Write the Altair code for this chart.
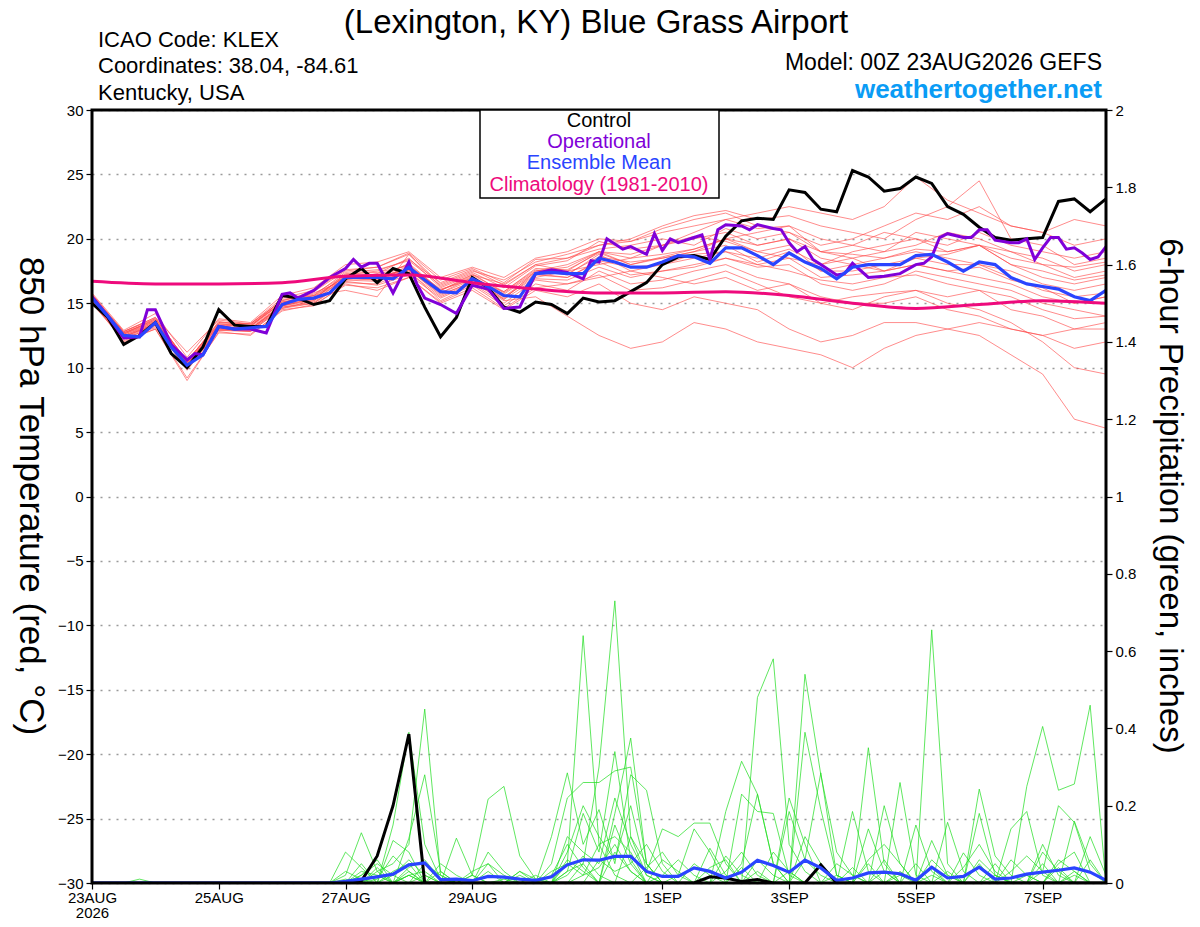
import altair as alt
import pandas as pd

# ---------------- data ----------------
HOURS6 = list(range(0, 385, 6))
HOURS12 = list(range(0, 385, 12))
HOURS24 = list(range(0, 385, 24))

control_temp = [15.0, 13.9, 11.8, 12.5, 13.5, 11.1, 10.0, 11.6, 14.5, 13.3,
                13.2, 13.2, 15.6, 15.4, 14.9, 15.2, 16.9, 17.7, 16.6, 17.7,
                17.3, 14.7, 12.4, 13.9, 17.0, 16.2, 14.7, 14.3, 15.1, 14.9,
                14.2, 15.4, 15.1, 15.2, 15.9, 16.6, 18.0, 18.6, 18.7, 18.4,
                20.2, 21.4, 21.6, 21.5, 23.8, 23.6, 22.3, 22.1, 25.3, 24.8,
                23.7, 23.9, 24.8, 24.3, 22.5, 21.9, 20.9, 20.1, 19.9, 20.0,
                20.1, 22.9, 23.1, 22.1, 23.1]

mean_temp = [15.4, 14.0, 12.5, 12.4, 13.5, 11.6, 10.2, 11.0, 13.2, 13.0,
             13.1, 13.2, 14.9, 15.3, 15.4, 15.8, 17.0, 17.0, 17.0, 16.9,
             17.8, 16.8, 15.9, 15.8, 16.9, 16.3, 15.6, 15.5, 17.3, 17.4,
             17.3, 17.3, 18.5, 18.2, 17.8, 17.8, 18.2, 18.7, 18.6, 18.1,
             19.3, 19.3, 18.7, 18.0, 18.9, 18.2, 17.7, 16.9, 17.8, 18.0,
             18.0, 18.0, 18.7, 18.8, 18.2, 17.5, 18.2, 18.0, 17.0, 16.5,
             16.3, 16.1, 15.5, 15.2, 16.0]

op_hours = [0, 6, 12, 18, 21, 24, 30, 36, 39, 42, 48, 54, 60, 66, 72, 75, 78, 84,
            90, 96, 99, 102, 105, 108, 114, 120, 123, 126, 132, 138, 144, 150,
            156, 162, 168, 174, 180, 186, 189, 192, 195, 201, 204, 210, 213, 216,
            219, 222, 228, 231, 234, 237, 240, 246, 249, 252, 258, 261, 264, 267,
            270, 273, 276, 282, 285, 288, 294, 300, 306, 312, 315, 318, 321, 324,
            330, 333, 336, 339, 342, 348, 351, 354, 357, 360, 363, 366, 369, 372,
            375, 378, 381, 384]
op_temp = [15.5, 14.0, 12.3, 12.4, 14.5, 14.5, 11.8, 10.6, 11.1, 11.0, 13.2, 13.0,
           13.0, 12.7, 15.7, 15.8, 15.4, 16.0, 17.0, 17.7, 18.4, 17.8, 18.1, 18.1,
           15.8, 18.2, 16.5, 15.4, 14.9, 14.2, 16.4, 16.1, 14.6, 14.7, 17.3, 17.6,
           17.4, 16.9, 18.3, 18.2, 20.0, 19.2, 19.4, 18.8, 20.4, 19.1, 20.0, 19.7,
           20.1, 20.3, 18.4, 20.7, 21.1, 21.0, 20.7, 21.1, 20.8, 20.7, 19.7, 19.0,
           19.4, 18.4, 18.0, 17.2, 17.3, 18.1, 17.0, 17.1, 17.3, 18.0, 18.1, 18.6,
           20.1, 20.4, 20.1, 20.1, 20.7, 20.7, 19.9, 19.7, 19.7, 20.0, 18.4, 19.3,
           20.1, 20.1, 19.2, 19.3, 18.9, 18.4, 18.6, 19.4]

clim_temp = [16.7, 16.5, 16.5, 16.6, 17.1, 17.2, 16.6, 16.1, 15.8, 15.8,
             15.9, 15.6, 15.0, 14.6, 14.9, 15.2, 15.0]

members_temp = [
    [15.8, 12.9, 14.2, 10.8, 13.8, 13.5, 15.6, 16.2, 18.0, 18.2, 19.0, 17.0, 17.8, 17.0, 18.5, 19.0, 20.0, 19.8, 20.5, 21.0, 21.5, 22.0, 22.5, 22.0, 21.5, 22.5, 24.8, 23.0, 22.0, 21.0, 20.5, 19.5, 20.0],
    [15.2, 12.0, 13.0, 9.0, 12.8, 12.5, 14.5, 14.8, 16.5, 16.0, 17.0, 15.0, 16.0, 14.5, 16.0, 15.5, 16.5, 15.0, 14.5, 15.5, 15.0, 14.5, 13.0, 12.0, 12.5, 13.5, 13.5, 13.0, 12.5, 11.0, 9.5, 6.0, 5.3],
    [15.6, 12.6, 13.8, 10.5, 13.5, 13.4, 15.2, 15.9, 17.5, 17.8, 18.8, 16.5, 17.5, 16.8, 18.2, 18.8, 19.5, 19.8, 20.8, 21.5, 22.0, 21.0, 20.5, 19.5, 20.0, 21.0, 22.0, 21.5, 22.5, 21.0, 20.5, 21.5, 21.0],
    [15.0, 12.2, 13.2, 9.8, 12.9, 12.8, 14.6, 15.0, 16.6, 16.5, 17.5, 15.2, 16.4, 14.8, 16.5, 16.0, 17.5, 16.5, 16.8, 17.5, 18.0, 17.0, 16.5, 15.0, 15.5, 15.8, 16.0, 15.0, 14.5, 13.5, 12.0, 10.0, 9.5],
    [15.5, 12.8, 13.9, 10.4, 13.6, 13.2, 15.3, 15.6, 17.4, 17.6, 18.3, 16.4, 17.4, 16.2, 17.9, 18.3, 19.8, 19.2, 19.5, 20.5, 21.5, 20.8, 21.0, 19.0, 18.5, 19.0, 20.5, 20.0, 19.5, 19.0, 18.5, 17.5, 18.0],
    [15.3, 12.4, 13.4, 10.1, 13.1, 13.0, 14.8, 15.3, 17.2, 17.2, 18.0, 16.0, 17.0, 15.5, 17.0, 17.5, 18.0, 18.5, 19.5, 20.0, 20.5, 19.5, 20.0, 18.5, 18.0, 17.5, 18.5, 18.8, 19.5, 18.0, 17.0, 16.5, 17.0],
    [15.7, 12.7, 13.6, 10.6, 13.3, 13.3, 15.0, 15.8, 16.8, 17.3, 18.5, 16.2, 17.2, 16.5, 18.0, 17.5, 19.0, 18.0, 18.5, 19.0, 20.0, 20.5, 21.0, 20.0, 19.5, 20.5, 20.0, 19.5, 20.5, 19.5, 19.0, 18.5, 19.0],
    [15.1, 12.3, 13.1, 9.9, 13.0, 12.9, 14.7, 15.1, 16.7, 16.4, 17.2, 15.4, 16.5, 15.0, 16.8, 16.5, 17.2, 16.0, 16.2, 16.8, 17.5, 16.5, 15.5, 15.0, 14.5, 15.5, 16.0, 15.5, 16.0, 14.5, 14.0, 13.0, 13.5],
    [15.4, 12.5, 13.5, 10.3, 13.2, 13.1, 14.9, 15.5, 17.1, 17.0, 17.7, 15.8, 17.0, 15.3, 17.5, 17.8, 19.0, 18.5, 18.8, 19.2, 20.0, 19.0, 19.5, 17.5, 18.0, 18.5, 19.0, 18.5, 18.0, 17.5, 16.5, 16.0, 16.5],
    [15.6, 12.7, 13.7, 10.2, 13.4, 13.3, 15.1, 15.4, 16.9, 16.8, 17.9, 16.1, 16.8, 15.9, 17.6, 17.2, 18.8, 17.5, 18.0, 18.5, 19.0, 18.5, 19.2, 18.0, 18.5, 17.5, 18.0, 17.5, 17.0, 16.5, 15.5, 15.0, 15.5],
    [15.2, 12.4, 13.3, 10.0, 13.0, 12.8, 14.6, 15.2, 16.9, 17.1, 17.6, 15.6, 16.7, 15.4, 17.2, 17.0, 18.2, 17.2, 17.5, 17.8, 18.5, 17.8, 18.0, 16.5, 16.0, 16.5, 17.5, 17.0, 16.5, 16.0, 15.0, 14.5, 14.0],
    [15.5, 12.6, 13.6, 10.3, 13.3, 13.2, 15.0, 15.6, 16.0, 15.5, 18.8, 16.3, 17.3, 15.8, 17.5, 18.0, 19.0, 18.8, 19.5, 20.2, 19.8, 19.0, 18.5, 18.0, 19.0, 19.5, 20.0, 19.0, 19.5, 18.5, 18.0, 17.0, 17.5],
    [15.3, 12.5, 13.4, 10.2, 13.1, 13.0, 14.8, 15.2, 17.0, 16.8, 17.6, 15.7, 16.6, 15.2, 15.5, 14.0, 12.5, 11.5, 12.0, 13.5, 13.0, 12.0, 11.5, 11.0, 10.0, 11.5, 12.5, 13.0, 13.5, 13.0, 12.5, 13.0, 13.0],
    [15.7, 12.8, 13.9, 11.2, 13.7, 13.4, 15.4, 16.0, 17.6, 17.8, 18.9, 16.8, 17.7, 16.6, 18.4, 18.5, 19.5, 20.0, 21.0, 21.8, 22.2, 21.5, 21.8, 21.0, 20.5, 20.0, 21.5, 22.5, 24.5, 20.0, 19.5, 18.0, 18.5],
    [15.0, 12.1, 13.0, 9.2, 12.7, 12.6, 14.4, 14.9, 16.4, 16.2, 17.0, 15.1, 16.2, 14.6, 16.2, 16.5, 17.0, 17.5, 17.0, 16.5, 17.0, 16.0, 16.5, 15.5, 15.0, 15.0, 15.5, 14.5, 14.0, 13.0, 12.5, 11.5, 12.0],
    [15.4, 12.6, 13.5, 10.4, 13.2, 13.0, 14.9, 15.3, 17.3, 17.4, 17.9, 16.0, 17.1, 15.7, 17.4, 17.3, 18.6, 18.2, 18.5, 19.0, 19.5, 18.2, 19.0, 17.5, 17.5, 18.0, 18.5, 18.0, 18.0, 17.0, 16.0, 15.5, 15.8],
    [15.6, 12.8, 13.8, 10.5, 13.5, 13.4, 15.2, 15.7, 17.2, 17.5, 18.4, 16.6, 17.6, 16.4, 18.0, 18.5, 19.2, 19.5, 20.0, 19.5, 20.8, 20.0, 20.5, 19.0, 19.5, 19.0, 19.5, 20.5, 20.0, 19.0, 18.0, 17.8, 18.2],
    [15.2, 12.3, 13.3, 10.0, 12.9, 12.9, 14.7, 15.0, 16.8, 16.7, 17.4, 15.5, 16.6, 15.3, 16.9, 16.8, 17.8, 17.0, 17.5, 18.0, 18.5, 18.0, 17.5, 16.8, 16.5, 17.0, 17.2, 16.5, 16.0, 15.5, 14.5, 13.8, 14.0],
    [15.5, 12.7, 13.7, 10.4, 13.4, 13.2, 15.1, 15.6, 17.0, 16.9, 18.1, 16.0, 17.2, 15.9, 17.7, 17.6, 18.9, 18.0, 18.6, 19.2, 20.0, 19.5, 20.0, 19.0, 18.8, 18.5, 19.2, 19.0, 19.5, 18.0, 17.5, 16.8, 17.2],
    [15.3, 12.4, 13.4, 10.1, 13.0, 13.0, 14.8, 15.4, 17.1, 17.0, 17.6, 15.8, 16.8, 15.5, 17.3, 17.0, 18.3, 17.8, 18.0, 18.8, 19.0, 18.0, 18.5, 17.0, 17.2, 17.5, 18.0, 17.5, 17.8, 16.8, 16.2, 15.0, 15.5],
]

control_precip = [0, 0, 0, 0, 0, 0, 0, 0, 0, 0, 0, 0, 0, 0, 0, 0, 0,
                  0.005, 0.07, 0.2, 0.385, 0,
                  0, 0, 0, 0, 0, 0, 0, 0, 0, 0, 0, 0, 0, 0, 0, 0, 0,
                  0.016, 0.013, 0.004, 0.009, 0, 0, 0, 0.047, 0,
                  0, 0, 0, 0, 0, 0, 0, 0, 0, 0, 0, 0, 0, 0, 0, 0, 0]

mean_precip = [0, 0, 0, 0, 0, 0, 0, 0, 0, 0, 0, 0, 0, 0, 0, 0,
               0.004, 0.01, 0.016, 0.023, 0.047, 0.052, 0.009, 0.01, 0.006, 0.017,
               0.015, 0.01, 0.007, 0.016, 0.047, 0.06, 0.059, 0.069, 0.069, 0.03,
               0.017, 0.017, 0.039, 0.03, 0.013, 0.028, 0.059, 0.045, 0.028, 0.059,
               0.039, 0.007, 0.013, 0.026, 0.028, 0.024, 0.007, 0.041, 0.013, 0.017,
               0.041, 0.01, 0.013, 0.023, 0.028, 0.033, 0.039, 0.028, 0.007]

# precipitation members: {6-hour step index: inches}, all other steps dry
members_precip = [
    {16: 0.02, 17: 0.13, 18: 0.03, 20: 0.02, 25: 0.08, 26: 0.03, 31: 0.05, 32: 0.30, 33: 0.73, 34: 0.12, 35: 0.02, 41: 0.05, 42: 0.23, 43: 0.05, 49: 0.14, 50: 0.03, 56: 0.18, 57: 0.02, 62: 0.16, 63: 0.05},
    {3: 0.01, 16: 0.08, 17: 0.04, 19: 0.15, 20: 0.39, 21: 0.10, 22: 0.01, 30: 0.05, 31: 0.64, 32: 0.10, 33: 0.02, 42: 0.48, 43: 0.58, 44: 0.10, 45: 0.03, 53: 0.11, 54: 0.02, 60: 0.08, 61: 0.03},
    {18: 0.03, 19: 0.05, 20: 0.10, 21: 0.45, 22: 0.02, 29: 0.05, 30: 0.22, 31: 0.26, 32: 0.26, 33: 0.29, 34: 0.30, 35: 0.05, 45: 0.54, 46: 0.28, 47: 0.08, 48: 0.02, 59: 0.25, 60: 0.405, 61: 0.24, 62: 0.256, 63: 0.46},
    {17: 0.02, 18: 0.06, 20: 0.116, 21: 0.28, 22: 0.03, 24: 0.02, 25: 0.217, 26: 0.25, 27: 0.07, 28: 0.01, 33: 0.18, 34: 0.375, 35: 0.05, 40: 0.185, 41: 0.315, 42: 0.23, 43: 0.05, 53: 0.655, 54: 0.05},
    {19: 0.03, 20: 0.05, 23: 0.116, 24: 0.02, 29: 0.12, 30: 0.285, 31: 0.10, 32: 0.19, 33: 0.05, 34: 0.28, 35: 0.24, 36: 0.05, 45: 0.39, 46: 0.19, 47: 0.02, 49: 0.35, 50: 0.05, 56: 0.243, 57: 0.07, 58: 0.02},
    {16: 0.01, 18: 0.04, 21: 0.05, 22: 0.02, 27: 0.03, 28: 0.01, 30: 0.08, 31: 0.20, 32: 0.12, 33: 0.06, 34: 0.20, 35: 0.03, 36: 0.14, 37: 0.12, 38: 0.155, 39: 0.155, 40: 0.05, 44: 0.22, 45: 0.10, 51: 0.26, 52: 0.02, 60: 0.03, 61: 0.20, 62: 0.157, 63: 0.03},
    {17: 0.05, 19: 0.11, 20: 0.08, 25: 0.05, 26: 0.02, 30: 0.03, 31: 0.18, 32: 0.08, 33: 0.34, 34: 0.06, 37: 0.02, 38: 0.14, 39: 0.08, 41: 0.23, 42: 0.185, 43: 0.18, 44: 0.02, 48: 0.185, 49: 0.03, 54: 0.157, 55: 0.03, 58: 0.14, 59: 0.185, 60: 0.02},
    {19: 0.02, 20: 0.06, 21: 0.02, 24: 0.03, 25: 0.05, 30: 0.12, 31: 0.08, 32: 0.05, 33: 0.22, 34: 0.10, 35: 0.02, 39: 0.09, 40: 0.02, 44: 0.185, 45: 0.06, 46: 0.285, 47: 0.02, 50: 0.20, 51: 0.05, 56: 0.06, 57: 0.02, 60: 0.10, 61: 0.02},
    {18: 0.02, 20: 0.03, 22: 0.05, 23: 0.02, 29: 0.03, 30: 0.05, 31: 0.02, 32: 0.10, 33: 0.12, 34: 0.08, 36: 0.06, 37: 0.03, 42: 0.06, 43: 0.02, 46: 0.05, 49: 0.06, 50: 0.10, 51: 0.05, 53: 0.04, 55: 0.078, 56: 0.02, 61: 0.05, 62: 0.08},
    {20: 0.02, 21: 0.03, 27: 0.03, 30: 0.06, 31: 0.03, 33: 0.15, 34: 0.05, 35: 0.10, 36: 0.03, 40: 0.07, 41: 0.02, 45: 0.12, 46: 0.05, 52: 0.15, 53: 0.03, 56: 0.05, 58: 0.03, 59: 0.07, 60: 0.03, 63: 0.12, 64: 0.02},
    {17: 0.02, 18: 0.05, 19: 0.02, 26: 0.01, 30: 0.03, 31: 0.05, 33: 0.08, 34: 0.03, 38: 0.05, 39: 0.02, 44: 0.03, 47: 0.02, 50: 0.06, 53: 0.02, 57: 0.05, 59: 0.02, 62: 0.03},
    {16: 0.03, 17: 0.01, 20: 0.04, 21: 0.06, 22: 0.01, 29: 0.02, 30: 0.10, 31: 0.04, 34: 0.12, 35: 0.05, 40: 0.03, 41: 0.08, 42: 0.02, 48: 0.04, 52: 0.05, 54: 0.03, 58: 0.06, 59: 0.02, 61: 0.04},
    {18: 0.01, 19: 0.07, 20: 0.03, 24: 0.02, 27: 0.02, 31: 0.02, 32: 0.04, 33: 0.10, 34: 0.03, 36: 0.02, 37: 0.06, 38: 0.02, 43: 0.08, 44: 0.03, 49: 0.05, 51: 0.02, 55: 0.04, 56: 0.10, 57: 0.03, 63: 0.06},
    {20: 0.02, 22: 0.03, 30: 0.02, 31: 0.07, 32: 0.02, 35: 0.04, 36: 0.08, 37: 0.02, 41: 0.04, 45: 0.06, 46: 0.02, 50: 0.03, 53: 0.06, 54: 0.02, 60: 0.05, 62: 0.02},
    {17: 0.03, 18: 0.02, 21: 0.02, 25: 0.03, 28: 0.02, 32: 0.06, 33: 0.03, 34: 0.05, 39: 0.04, 40: 0.06, 42: 0.03, 47: 0.05, 48: 0.02, 51: 0.03, 57: 0.02, 61: 0.06, 62: 0.03},
]

tick_hours = [0, 48, 96, 144, 216, 264, 312, 360]
tick_labels = ["23AUG", "25AUG", "27AUG", "29AUG", "1SEP", "3SEP", "5SEP", "7SEP"]
first_label_year = "2026"
temp_ticks = [-30, -25, -20, -15, -10, -5, 0, 5, 10, 15, 20, 25, 30]
precip_ticks = [0, 0.2, 0.4, 0.6, 0.8, 1, 1.2, 1.4, 1.6, 1.8, 2]

title_text = "(Lexington, KY) Blue Grass Airport"
info_lines = ["ICAO Code: KLEX", "Coordinates: 38.04, -84.61", "Kentucky, USA"]
model_text = "Model: 00Z 23AUG2026 GEFS"
site_text = "weathertogether.net"
legend_items = ["Control", "Operational", "Ensemble Mean", "Climatology (1981-2010)"]
left_title = "850 hPa Temperature (red, \u00b0C)"
right_title = "6-hour Precipitation (green, inches)"

# colours
C_MEMBER_T = "#ff4a4a"
C_MEMBER_P = "#22dd22"
C_CONTROL = "#000000"
C_OPER = "#8000d8"
C_MEAN = "#2a44ff"
C_CLIM = "#ee0a7c"
legend_colors = [C_CONTROL, C_OPER, C_MEAN, C_CLIM]

FONT = "Liberation Sans"

# ---------------- tables ----------------
rows = []
for m, vals in enumerate(members_temp):
    for h, v in zip(HOURS12, vals):
        rows.append({"h": h, "t": v, "m": m})
df_mt = pd.DataFrame(rows)

rows = []
for m, d in enumerate(members_precip):
    for i, h in enumerate(HOURS6):
        rows.append({"h": h, "p": d.get(i, 0.0), "m": m})
df_mp = pd.DataFrame(rows)

df_ctl_t = pd.DataFrame({"h": HOURS6, "t": control_temp})
df_mean_t = pd.DataFrame({"h": HOURS6, "t": mean_temp})
df_op_t = pd.DataFrame({"h": op_hours, "t": op_temp})
df_clim = pd.DataFrame({"h": HOURS24, "t": clim_temp})
df_ctl_p = pd.DataFrame({"h": HOURS6, "p": control_precip})
df_mean_p = pd.DataFrame({"h": HOURS6, "p": mean_precip})

# ---------------- scales / axes ----------------
expr = "''"
for hv, lab in zip(reversed(tick_hours), reversed(tick_labels)):
    if hv == tick_hours[0]:
        expr = f"datum.value == {hv} ? ['{lab}', '{first_label_year}'] : ({expr})"
    else:
        expr = f"datum.value == {hv} ? '{lab}' : ({expr})"

x_axis = alt.Axis(values=tick_hours, labelExpr=expr, title=None, grid=False,
                  tickSize=6, labelFontSize=15, labelPadding=1, labelFlush=False,
                  labelOverlap=False, labelBaseline="top", labelLineHeight=15)
X = alt.X("h:Q", scale=alt.Scale(domain=[0, 384], nice=False, zero=False), axis=x_axis)

t_scale = alt.Scale(domain=[-30, 30], nice=False, zero=False)
t_axis = alt.Axis(values=temp_ticks, title=None, orient="left", grid=True,
                  gridDash=[2, 6], gridColor="#9a9a9a", gridWidth=1.3,
                  tickSize=6, labelFontSize=15, labelPadding=3)
YT = alt.Y("t:Q", scale=t_scale, axis=t_axis)

p_scale = alt.Scale(domain=[0, 2], nice=False, zero=False)
p_axis = alt.Axis(values=precip_ticks, format="~g", title=None, orient="right",
                  grid=False, tickSize=6, labelFontSize=15, labelPadding=3)
YP = alt.Y("p:Q", scale=p_scale, axis=p_axis)

# ---------------- layers ----------------
red = alt.Chart(df_mt).mark_line(color=C_MEMBER_T, strokeWidth=0.8, opacity=0.8, clip=True).encode(
    x=X, y=YT, detail="m:N")
ctl_t = alt.Chart(df_ctl_t).mark_line(color=C_CONTROL, strokeWidth=3, clip=True).encode(x=X, y=YT)
op_t = alt.Chart(df_op_t).mark_line(color=C_OPER, strokeWidth=3, clip=True).encode(x=X, y=YT)
mean_t = alt.Chart(df_mean_t).mark_line(color=C_MEAN, strokeWidth=3.2, clip=True).encode(x=X, y=YT)
clim = alt.Chart(df_clim).mark_line(color=C_CLIM, strokeWidth=3, interpolate="monotone", clip=True).encode(x=X, y=YT)
temp_layer = alt.layer(red, ctl_t, op_t, mean_t, clim)

green = alt.Chart(df_mp).mark_line(color=C_MEMBER_P, strokeWidth=0.8, opacity=0.9, clip=True).encode(
    x=X, y=YP, detail="m:N")
ctl_p = alt.Chart(df_ctl_p).mark_line(color=C_CONTROL, strokeWidth=3, clip=True).encode(x=X, y=YP)
mean_p = alt.Chart(df_mean_p).mark_line(color=C_MEAN, strokeWidth=3.2, clip=True).encode(x=X, y=YP)
precip_layer = alt.layer(green, ctl_p, mean_p)

one = pd.DataFrame({"k": [0]})


def text_layer(txt, x, y, size, color="black", align="left", angle=0, weight="normal", baseline="alphabetic"):
    return alt.Chart(pd.DataFrame({"label": [txt]})).mark_text(
        align=align, baseline=baseline, fontSize=size, font=FONT, color=color,
        angle=angle, fontWeight=weight).encode(
        x=alt.value(x), y=alt.value(y), text="label:N")


# frame drawn on top of the data
frame = alt.Chart(one).mark_rect(fill="transparent", stroke="black", strokeWidth=3).encode(
    x=alt.value(0), x2=alt.value(1014), y=alt.value(0), y2=alt.value(773))

legend_box = alt.Chart(one).mark_rect(fill="white", stroke="black", strokeWidth=1.5).encode(
    x=alt.value(388), x2=alt.value(627), y=alt.value(0), y2=alt.value(88))

annots = [frame, legend_box]
for i, (lab, col) in enumerate(zip(legend_items, legend_colors)):
    annots.append(text_layer(lab, 507, [11, 32, 53, 75][i], 20, color=col, align="center", baseline="middle"))

annots.append(text_layer(title_text, 504, -77, 33, align="center"))
for i, line in enumerate(info_lines):
    annots.append(text_layer(line, 6, [-63, -37, -10][i], 22))
annots.append(text_layer(model_text, 1010, -40, 23, align="right"))
annots.append(text_layer(site_text, 1010, -12, 26, color="#0a9cf5", align="right", weight="bold"))
annots.append(text_layer(left_title, -61, 386, 35, align="center", angle=90, baseline="middle"))
annots.append(text_layer(right_title, 1078, 386, 33, align="center", angle=90, baseline="middle"))

chart = alt.layer(temp_layer, precip_layer, *annots).resolve_scale(y="independent").properties(
    width=1014, height=773,
    padding={"left": 84, "top": 102, "right": 86, "bottom": 36},
    autosize=alt.AutoSizeParams(type="none"),
    background="white",
).configure_view(stroke=None).configure_axis(
    domain=False, labelFont=FONT, labelColor="black", tickColor="black", tickWidth=1.2)

chart.save("out.html", embed_options={"renderer": "svg", "actions": False})
